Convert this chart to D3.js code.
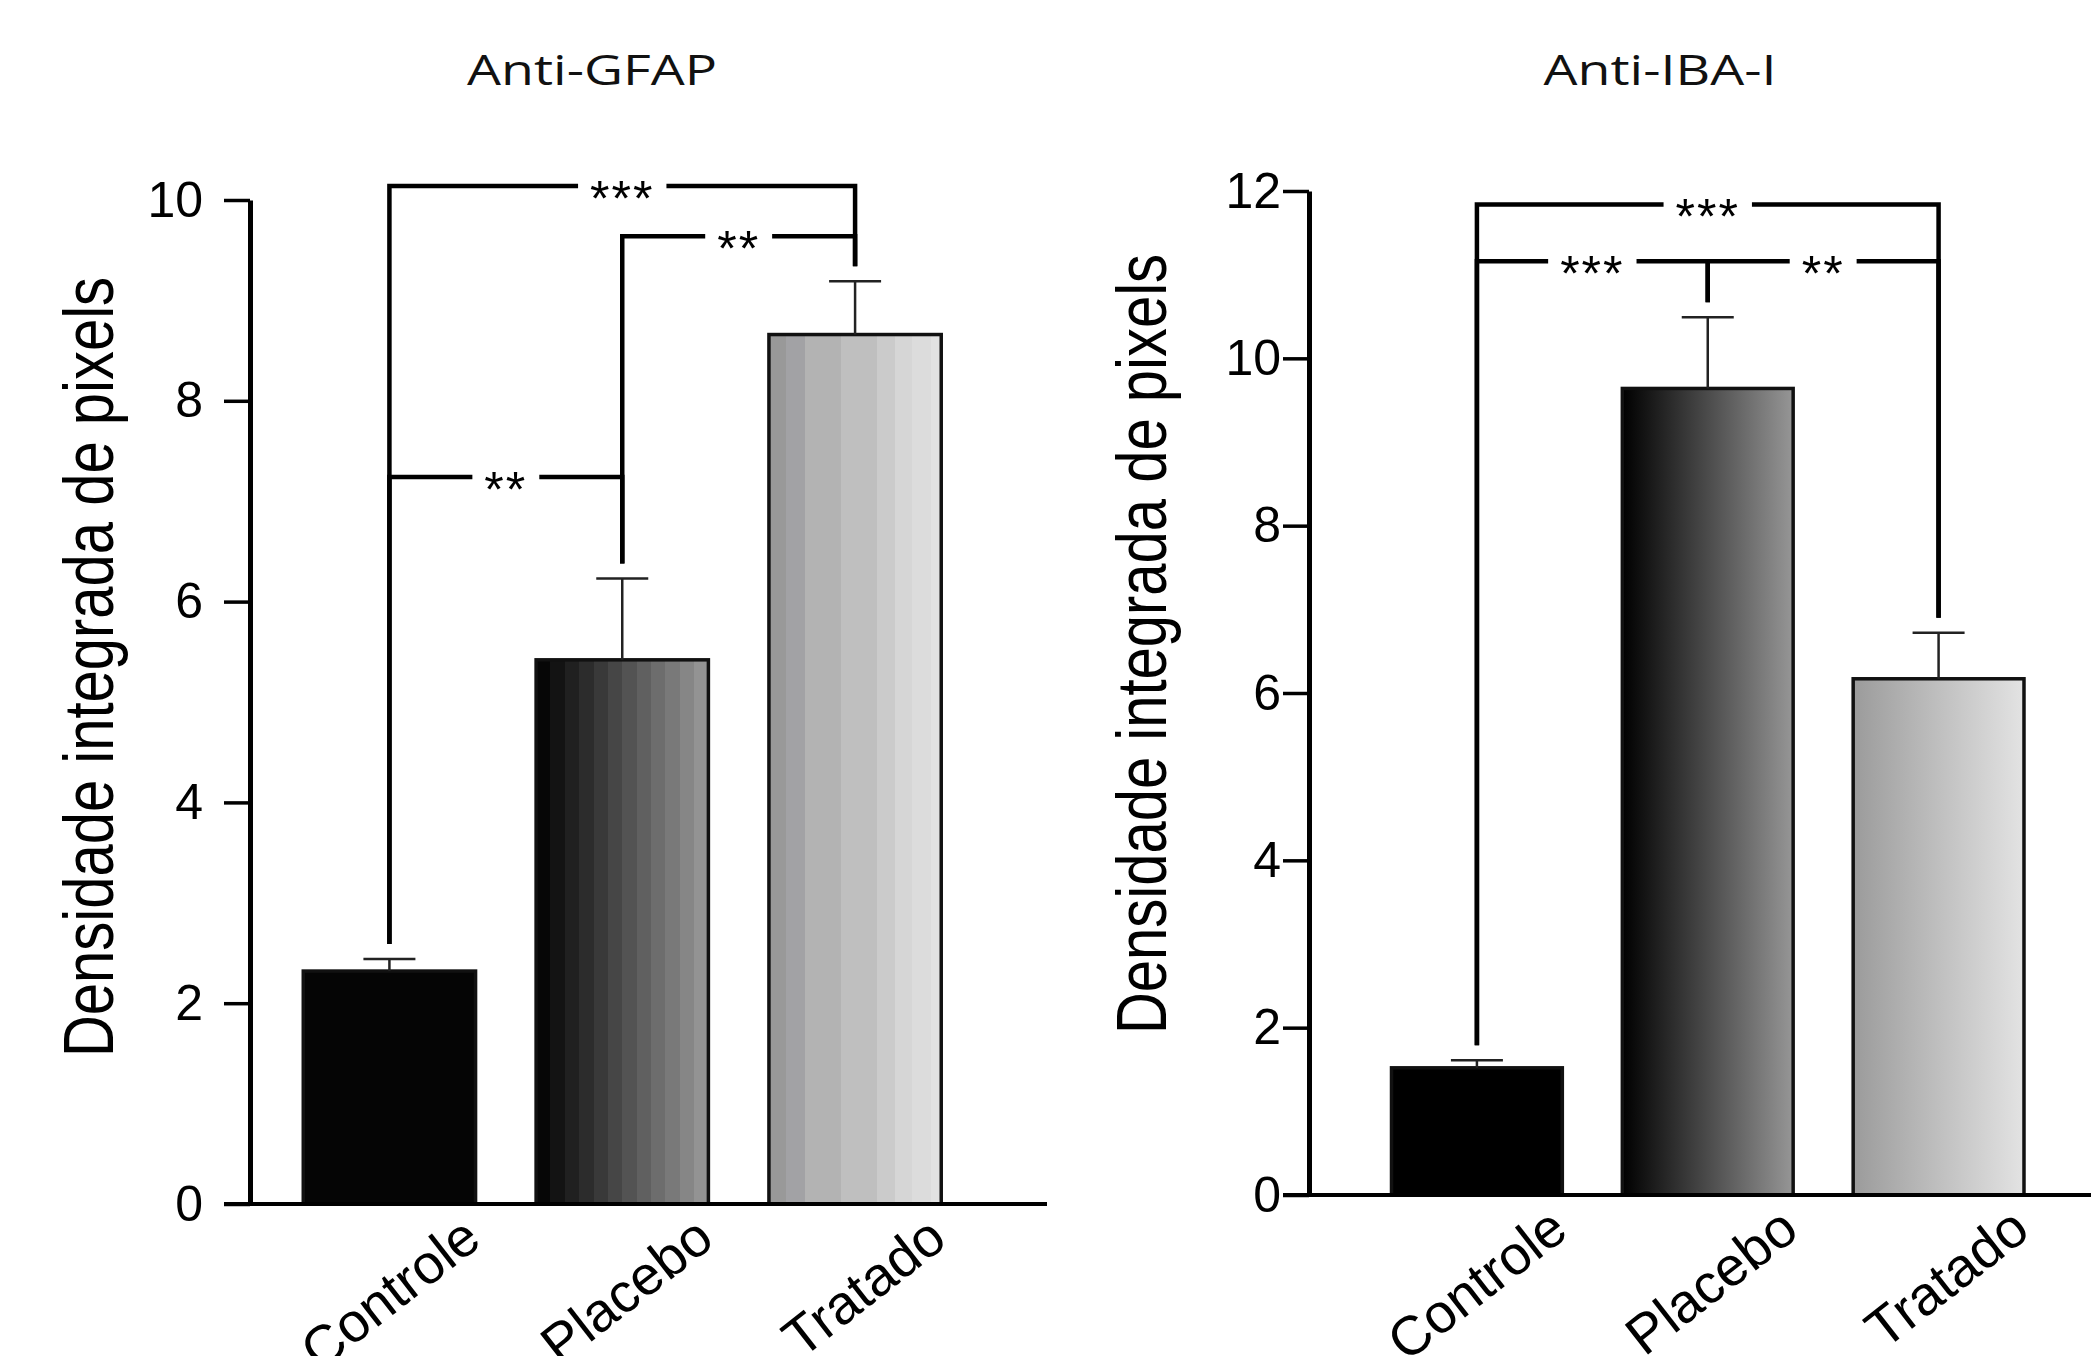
<!DOCTYPE html>
<html>
<head>
<meta charset="utf-8">
<script src="https://cdn.jsdelivr.net/npm/d3@7"></script>
<style>
  body { margin: 0; background: #fff; }
  svg { display: block; }
</style>
</head>
<body>
<svg id="fig" width="2091" height="1356"></svg>
<script>
// values
var groups = ["Controle", "Placebo", "Tratado"];

var gfapMean = [2.32, 5.42, 8.66];
var gfapSem = [0.12, 0.81, 0.53];
var gfapTicks = [0, 2, 4, 6, 8, 10];
// [from, to, bracket height, label]
var gfapComps = [["Controle", "Tratado", 10.14, "***"],
                 ["Placebo", "Tratado", 9.64, "**"],
                 ["Controle", "Placebo", 7.24, "**"]];

var ibaMean = [1.52, 9.64, 6.17];
var ibaSem = [0.09, 0.85, 0.55];
var ibaTicks = [0, 2, 4, 6, 8, 10, 12];
var ibaComps = [["Controle", "Tratado", 11.84, "***"],
                ["Controle", "Placebo", 11.16, "***"],
                ["Placebo", "Tratado", 11.16, "**"]];

var yLabel = "Densidade integrada de pixels";

var FONT = "'Liberation Sans', Arial, sans-serif";
var svg = d3.select("#fig");
var defs = svg.append("defs");

// banded gradient (like the left panel bars)
function stepGrad(id, cols, widths) {
  var gr = defs.append("linearGradient").attr("id", id)
    .attr("x1", "0%").attr("x2", "100%").attr("y1", "0%").attr("y2", "0%");
  var tot = d3.sum(widths), acc = 0;
  cols.forEach(function(c, i) {
    gr.append("stop").attr("offset", (acc / tot * 100) + "%").attr("stop-color", c);
    acc += widths[i];
    gr.append("stop").attr("offset", (acc / tot * 100) + "%").attr("stop-color", c);
  });
}
function smoothGrad(id, c0, c1) {
  var gr = defs.append("linearGradient").attr("id", id)
    .attr("x1", "0%").attr("x2", "100%").attr("y1", "0%").attr("y2", "0%");
  gr.append("stop").attr("offset", "0%").attr("stop-color", c0);
  gr.append("stop").attr("offset", "100%").attr("stop-color", c1);
}

var plCols = d3.range(12).map(function(i) { return d3.interpolateRgb("#060606", "#939393")(i / 11); });
stepGrad("gPlaceboL", plCols, plCols.map(function() { return 1; }));
stepGrad("gTratadoL", ["#999999", "#a2a2a5", "#b3b3b3", "#bfbfbf", "#cbcbcb", "#d6d6d6", "#dcdcdc", "#e2e2e2"],
         [10, 11, 21, 21, 10, 10, 11, 6]);
smoothGrad("gPlaceboR", "#000000", "#969696");
smoothGrad("gTratadoR", "#9b9b9b", "#e3e3e3");

function drawPanel(cfg) {
  var y = d3.scaleLinear().domain([0, cfg.ymax]).range([cfg.y0, cfg.ytop]);
  var x = d3.scaleBand().domain(groups).range(cfg.xr).paddingInner(0.26).paddingOuter(0.13);
  var bw = x.bandwidth();
  var g = svg.append("g");

  // title
  g.append("text")
    .attr("transform", "translate(" + cfg.titleX + ",85) scale(1.28,1)")
    .attr("text-anchor", "middle")
    .style("font-family", "'Open Sans', sans-serif")
    .style("font-size", "42px")
    .attr("fill", "#111")
    .text(cfg.title);

  // bars
  g.selectAll("rect.bar").data(groups).enter().append("rect")
    .attr("class", "bar")
    .attr("x", function(d) { return x(d); })
    .attr("y", function(d, i) { return y(cfg.means[i]); })
    .attr("width", bw)
    .attr("height", function(d, i) { return y(0) - y(cfg.means[i]); })
    .attr("fill", function(d, i) { return cfg.fills[i]; })
    .attr("stroke", "#111")
    .attr("stroke-width", 3.5);

  // error bars (upper only)
  var eb = g.selectAll("g.err").data(groups).enter().append("g").attr("class", "err")
    .attr("stroke", "#222").attr("stroke-width", 2.5);
  eb.append("line")
    .attr("x1", function(d) { return x(d) + bw / 2; })
    .attr("x2", function(d) { return x(d) + bw / 2; })
    .attr("y1", function(d, i) { return y(cfg.means[i]); })
    .attr("y2", function(d, i) { return y(cfg.means[i] + cfg.sems[i]); });
  eb.append("line")
    .attr("x1", function(d) { return x(d) + bw / 2 - 26; })
    .attr("x2", function(d) { return x(d) + bw / 2 + 26; })
    .attr("y1", function(d, i) { return y(cfg.means[i] + cfg.sems[i]); })
    .attr("y2", function(d, i) { return y(cfg.means[i] + cfg.sems[i]); });

  // x baseline
  g.append("line")
    .attr("x1", cfg.xAxis[0]).attr("x2", cfg.xAxis[1])
    .attr("y1", y(0)).attr("y2", y(0))
    .attr("stroke", "#000").attr("stroke-width", 4);

  // y axis
  var ya = g.append("g")
    .attr("transform", "translate(" + cfg.axisX + ",0)")
    .call(d3.axisLeft(y).tickValues(cfg.ticks).tickSize(26).tickSizeOuter(0).tickPadding(cfg.tickPad));
  ya.select(".domain").attr("stroke", "#000").attr("stroke-width", 5);
  ya.selectAll(".tick line").attr("stroke", "#000").attr("stroke-width", 3.5);
  ya.selectAll(".tick text")
    .style("font-family", FONT).style("font-size", "50px").attr("fill", "#000");

  // x tick labels
  var xa = g.append("g")
    .attr("transform", "translate(0," + y(0) + ")")
    .call(d3.axisBottom(x).tickSize(0));
  xa.select(".domain").remove();
  xa.selectAll(".tick text")
    .attr("y", 0).attr("dy", 0)
    .attr("text-anchor", "end")
    .attr("transform", "translate(" + (bw / 2 + 8) + ",40) rotate(-38)")
    .style("font-family", FONT).style("font-size", "55px").attr("fill", "#000");

  // y label
  g.append("text")
    .attr("transform", "translate(" + cfg.labX + "," + cfg.labY + ") scale(1.2,1) rotate(-90)")
    .attr("text-anchor", "middle")
    .style("font-family", FONT).style("font-size", "58px")
    .attr("fill", "#000")
    .text(yLabel);

  // significance brackets
  cfg.comps.forEach(function(c) {
    var i = groups.indexOf(c[0]), j = groups.indexOf(c[1]);
    var xa1 = x(c[0]) + bw / 2, xb1 = x(c[1]) + bw / 2, yl = y(c[2]);
    var ea = y(cfg.means[i] + cfg.sems[i]) - 15;
    var ebb = y(cfg.means[j] + cfg.sems[j]) - 15;
    var mid = (xa1 + xb1) / 2;
    var t = g.append("text")
      .attr("x", mid).attr("y", yl + 30)
      .attr("text-anchor", "middle")
      .style("font-family", FONT).style("font-size", "50px")
      .style("letter-spacing", "2px")
      .attr("fill", "#000")
      .text(c[3]);
    var half = t.node().getComputedTextLength() / 2 + 12;
    g.append("path")
      .attr("d", "M" + xa1 + "," + ea + "V" + yl + "H" + (mid - half) +
                 "M" + (mid + half) + "," + yl + "H" + xb1 + "V" + ebb)
      .attr("fill", "none").attr("stroke", "#000").attr("stroke-width", 4.5);
  });
}

drawPanel({
  title: "Anti-GFAP", titleX: 592,
  means: gfapMean, sems: gfapSem, ticks: gfapTicks, comps: gfapComps,
  ymax: 10, y0: 1204, ytop: 200,
  xr: [273, 971.5], axisX: 250, xAxis: [224, 1047], tickPad: 21,
  labX: 113, labY: 667,
  fills: ["#050505", "url(#gPlaceboL)", "url(#gTratadoL)"]
});

drawPanel({
  title: "Anti-IBA-I", titleX: 1660,
  means: ibaMean, sems: ibaSem, ticks: ibaTicks, comps: ibaComps,
  ymax: 12, y0: 1195, ytop: 191,
  xr: [1361.5, 2054], axisX: 1309, xAxis: [1283, 2091], tickPad: 2,
  labX: 1166, labY: 644,
  fills: ["#000000", "url(#gPlaceboR)", "url(#gTratadoR)"]
});
</script>
</body>
</html>
